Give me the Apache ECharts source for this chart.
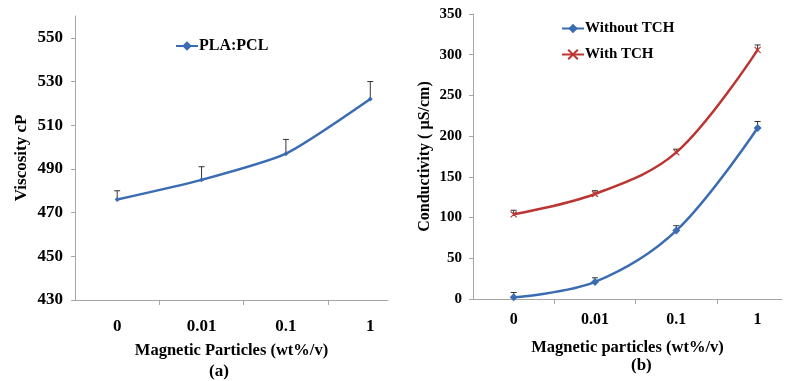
<!DOCTYPE html>
<html lang="en" style="height: 100%">
<head>
  <meta charset="utf-8">
</head>
<body style="height: 100%; margin: 0; background: #fff">
  <div id="container" style="width: 788px; height: 381px"></div>

  <script type="text/javascript" src="https://cdn.jsdelivr.net/npm/echarts@6/dist/echarts.min.js"></script>

  <script type="text/javascript">
    // data
    var categories = ['0', '0.01', '0.1', '1'];
    var viscosity = [476, 485, 497, 522];
    var viscosityErr = [4, 6, 6.5, 8];
    var withoutTCH = [2, 21, 84, 210];
    var withoutTCHErr = [6, 5, 6, 8];
    var withTCH = [104, 129, 180, 306];
    var withTCHErr = [5, 4, 4, 6];
    var viscosityTicks = [430, 450, 470, 490, 510, 530, 550];

    var FONT = 'Liberation Serif';
    var BLUE = '#3a6cb2';
    var RED = '#bb3532';
    var AXIS = '#a6a6a6';
    var XSHAPE = 'path://M0,0 L10,10 M10,0 L0,10 M0,0 L10,10 Z';

    function pairs(vals) {
      return vals.map(function (v, i) { return [i, v]; });
    }
    function errPairs(vals, errs) {
      return vals.map(function (v, i) { return [i, v, v + errs[i]]; });
    }

    function errorBar(params, api) {
      var p0 = api.coord([api.value(0), api.value(1)]);
      var p1 = api.coord([api.value(0), api.value(2)]);
      var style = { stroke: '#333', lineWidth: 1 };
      return {
        type: 'group',
        children: [
          { type: 'line', shape: { x1: p0[0], y1: p0[1], x2: p1[0], y2: p1[1] }, style: style },
          { type: 'line', shape: { x1: p1[0] - 3, y1: p1[1], x2: p1[0] + 3, y2: p1[1] }, style: style }
        ]
      };
    }

    function xAxisFor(idx, max, labelMargin, labelSize, name, nameGap) {
      return {
        type: 'value',
        gridIndex: idx,
        min: -0.5,
        max: max,
        name: name,
        nameLocation: 'middle',
        nameGap: nameGap,
        nameTextStyle: { fontFamily: FONT, fontWeight: 'bold', fontSize: 16.5, color: '#000' },
        splitLine: { show: false },
        axisLine: { onZero: false, lineStyle: { color: AXIS, width: 1 } },
        axisTick: { customValues: [0.5, 1.5, 2.5], length: 5, lineStyle: { color: AXIS } },
        axisLabel: {
          customValues: [0, 1, 2, 3],
          margin: labelMargin,
          fontFamily: FONT, fontWeight: 'bold', fontSize: labelSize, color: '#000',
          formatter: function (v) { return categories[Math.round(v)]; }
        }
      };
    }

    var dom = document.getElementById('container');
    var myChart = echarts.init(dom, null, { renderer: 'canvas' });

    var option = {
      animation: false,
      grid: [
        { left: 75, top: 16, width: 313, height: 284 },
        { left: 473, top: 14, width: 309, height: 285 }
      ],
      xAxis: [
        xAxisFor(0, 3.21, 18, 17, 'Magnetic Particles (wt%/v)', 42),
        xAxisFor(1, 3.3, 13, 16, 'Magnetic particles (wt%/v)', 40)
      ],
      yAxis: [
        {
          type: 'value',
          gridIndex: 0,
          min: 430,
          max: 560,
          name: 'Viscosity cP',
          nameLocation: 'middle',
          nameGap: 45,
          nameTextStyle: { fontFamily: FONT, fontWeight: 'bold', fontSize: 17, color: '#000' },
          splitLine: { show: false },
          axisLine: { show: true, onZero: false, lineStyle: { color: AXIS } },
          axisTick: { show: true, customValues: viscosityTicks, length: 4, lineStyle: { color: AXIS } },
          axisLabel: {
            customValues: viscosityTicks, margin: 12,
            fontFamily: FONT, fontWeight: 'bold', fontSize: 17, color: '#000'
          }
        },
        {
          type: 'value',
          gridIndex: 1,
          min: 0,
          max: 350,
          interval: 50,
          name: 'Conductivity ( µS/cm)',
          nameLocation: 'middle',
          nameGap: 40,
          nameTextStyle: { fontFamily: FONT, fontWeight: 'bold', fontSize: 16, color: '#000' },
          splitLine: { show: false },
          axisLine: { show: true, onZero: false, lineStyle: { color: AXIS } },
          axisTick: { show: true, length: 4, lineStyle: { color: AXIS } },
          axisLabel: {
            margin: 11,
            fontFamily: FONT, fontWeight: 'bold', fontSize: 15, color: '#000'
          }
        }
      ],
      legend: [
        {
          data: ['PLA:PCL'],
          left: 170, top: 33,
          itemWidth: 22, itemHeight: 12,
          textStyle: { fontFamily: FONT, fontWeight: 'bold', fontSize: 16, color: '#000', padding: [0, 0, 0, -4] }
        },
        {
          data: ['Without TCH', 'With TCH'],
          orient: 'vertical',
          left: 556, top: 16,
          itemWidth: 22, itemHeight: 12,
          itemGap: 11,
          textStyle: { fontFamily: FONT, fontWeight: 'bold', fontSize: 15, color: '#000', padding: [0, 0, 0, -4] }
        }
      ],
      graphic: [
        { type: 'text', left: 209, top: 363, style: { text: '(a)', font: 'bold 17px "Liberation Serif"', fill: '#000' } },
        { type: 'text', left: 631, top: 357, style: { text: '(b)', font: 'bold 17px "Liberation Serif"', fill: '#000' } }
      ],
      series: [
        {
          name: 'PLA:PCL', type: 'line', xAxisIndex: 0, yAxisIndex: 0,
          data: pairs(viscosity), smooth: 0.2,
          symbol: 'diamond', symbolSize: 5,
          lineStyle: { color: BLUE, width: 2.5 }, itemStyle: { color: BLUE }
        },
        {
          type: 'custom', xAxisIndex: 0, yAxisIndex: 0,
          data: errPairs(viscosity, viscosityErr), renderItem: errorBar, z: 3
        },
        {
          name: 'Without TCH', type: 'line', xAxisIndex: 1, yAxisIndex: 1,
          data: pairs(withoutTCH), smooth: 0.35,
          symbol: 'diamond', symbolSize: 8,
          lineStyle: { color: BLUE, width: 2.5 }, itemStyle: { color: BLUE }
        },
        {
          name: 'With TCH', type: 'line', xAxisIndex: 1, yAxisIndex: 1,
          data: pairs(withTCH), smooth: 0.35,
          symbol: XSHAPE, symbolSize: 6,
          lineStyle: { color: RED, width: 2.5 },
          itemStyle: { color: 'none', borderColor: RED, borderWidth: 1.2 }
        },
        {
          type: 'custom', xAxisIndex: 1, yAxisIndex: 1,
          data: errPairs(withoutTCH, withoutTCHErr), renderItem: errorBar, z: 3
        },
        {
          type: 'custom', xAxisIndex: 1, yAxisIndex: 1,
          data: errPairs(withTCH, withTCHErr), renderItem: errorBar, z: 3
        }
      ]
    };

    myChart.setOption(option);
    window.addEventListener('resize', myChart.resize);
  </script>
</body>
</html>
